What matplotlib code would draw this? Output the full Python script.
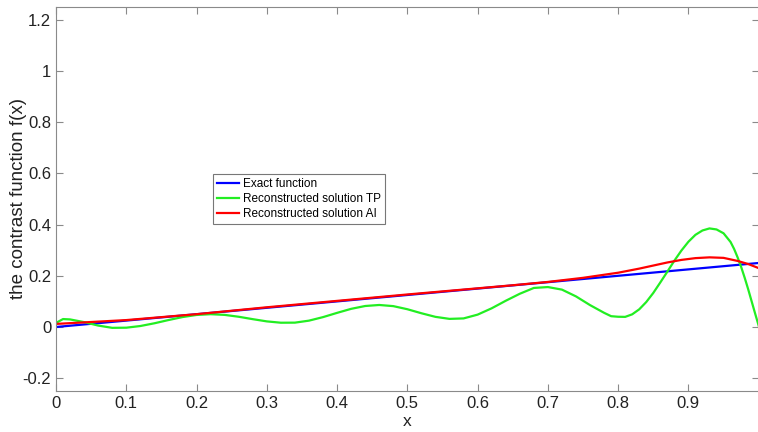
import numpy as np
import matplotlib.pyplot as plt

plt.rcParams['font.family'] = ['Liberation Sans', 'DejaVu Sans']

# dane
x_exact = [0.0, 1.0]
y_exact = [0.0, 0.25]

x_tp = [0.0, 0.01, 0.02, 0.04, 0.06, 0.08, 0.10, 0.12, 0.14, 0.16, 0.18, 0.20, 0.22,
        0.24, 0.26, 0.28, 0.30, 0.32, 0.34, 0.36, 0.38, 0.40, 0.42, 0.44, 0.46,
        0.48, 0.50, 0.52, 0.54, 0.56, 0.58, 0.60, 0.62, 0.64, 0.66, 0.68, 0.70,
        0.72, 0.74, 0.76, 0.78, 0.79, 0.80, 0.81, 0.82, 0.83, 0.84, 0.85, 0.86,
        0.87, 0.88, 0.89, 0.90, 0.91, 0.92, 0.93, 0.94, 0.95, 0.96, 0.965, 0.97,
        0.975, 0.98, 0.985, 0.99, 0.995, 1.0]
y_tp = [0.016, 0.031, 0.0296, 0.019, 0.0056, -0.0033, -0.0027, 0.0038, 0.0145, 0.0271,
        0.0388, 0.047, 0.05, 0.0473, 0.040, 0.0306, 0.0219, 0.0167, 0.017, 0.0248,
        0.0386, 0.0552, 0.0709, 0.082, 0.086, 0.0815, 0.0694, 0.0537, 0.0396, 0.0317,
        0.0335, 0.0483, 0.073, 0.1024, 0.1298, 0.1525, 0.156, 0.146, 0.1195, 0.0855,
        0.0554, 0.0422, 0.040, 0.0395, 0.0495, 0.069, 0.0975, 0.133, 0.174, 0.216,
        0.259, 0.2985, 0.333, 0.360, 0.377, 0.385, 0.381, 0.366, 0.332, 0.305, 0.272,
        0.235, 0.193, 0.148, 0.10, 0.052, 0.005]

x_ai = [0.0, 0.1, 0.2, 0.3, 0.4, 0.5, 0.6, 0.65, 0.7, 0.75, 0.8, 0.83, 0.85, 0.87,
        0.89, 0.91, 0.93, 0.95, 0.97, 0.985, 1.0]
y_ai = [0.012, 0.027, 0.05, 0.077, 0.102, 0.127, 0.151, 0.163, 0.176, 0.192, 0.212,
        0.228, 0.240, 0.252, 0.262, 0.269, 0.272, 0.270, 0.258, 0.246, 0.23]

fig = plt.figure(figsize=(7.58, 4.32), dpi=100)
ax = fig.add_axes([0.0739, 0.0949, 0.927, 0.889])

ax.plot(x_exact, y_exact, color='#0000ff', lw=1.6, label='Exact function')
ax.plot(x_tp, y_tp, color='#22ee22', lw=1.6, label='Reconstructed solution TP')
ax.plot(x_ai, y_ai, color='#ff0000', lw=1.6, label='Reconstructed solution AI')

ax.set_xlim(0, 1)
ax.set_ylim(-0.25, 1.25)
ax.set_xticks(np.arange(0, 1.0, 0.1))
ax.set_xticklabels(['0', '0.1', '0.2', '0.3', '0.4', '0.5', '0.6', '0.7', '0.8', '0.9'])
ax.set_yticks([-0.2, 0, 0.2, 0.4, 0.6, 0.8, 1.0, 1.2])
ax.set_yticklabels(['-0.2', '0', '0.2', '0.4', '0.6', '0.8', '1', '1.2'])

for s in ax.spines.values():
    s.set_color('#8a8a8a')
ax.tick_params(direction='in', length=5, color='#8a8a8a', labelsize=12,
               labelcolor='#222222', top=True, right=True)

ax.set_xlabel('x', fontsize=12.5, color='#222222', labelpad=2)
ax.set_ylabel('the contrast function f(x)', fontsize=13.5, color='#222222')
ax.yaxis.set_label_coords(-0.041, 0.5)

leg = ax.legend(loc='upper left', bbox_to_anchor=(0.223, 0.565), fontsize=8.5,
                frameon=True, fancybox=False, handlelength=1.9, handletextpad=0.3,
                borderpad=0.35, labelspacing=0.25, borderaxespad=0)
leg.get_frame().set_edgecolor('#555555')
leg.get_frame().set_linewidth(0.8)

fig.savefig('out.png', dpi=100)
